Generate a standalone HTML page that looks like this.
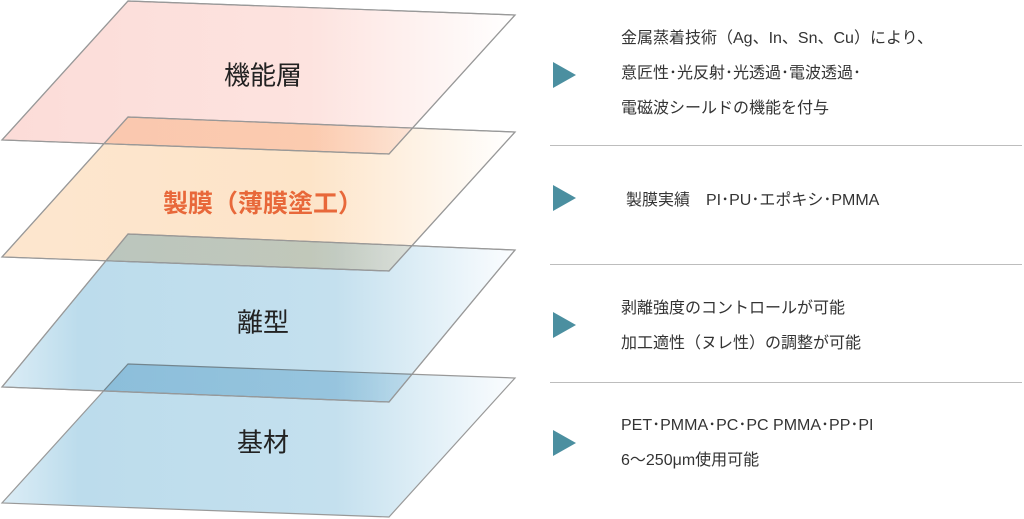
<!DOCTYPE html>
<html><head><meta charset="utf-8"><style>
body{margin:0;width:1024px;height:519px;background:#fff;overflow:hidden;position:relative;font-family:"Liberation Sans","Noto Sans CJK JP",sans-serif}
svg{position:absolute;left:0;top:0}
.t{position:absolute;font-size:16px;color:#333;white-space:nowrap;line-height:35px}
.tri{position:absolute;left:553px;width:0;height:0;border-top:13px solid transparent;border-bottom:13px solid transparent;border-left:23px solid #4b8fa0}
.sep{position:absolute;left:550px;width:472px;height:1px;background:#bdbdbd}
.lbl{position:absolute;font-size:26px;color:#222;transform:translate(-50%,-50%);white-space:nowrap}
</style></head><body>
<svg width="1024" height="519">
<defs>
<linearGradient id="p" x1="0" x2="1"><stop offset="0" stop-color="#fcdcd8"/><stop offset=".6" stop-color="#fde3df"/><stop offset="1" stop-color="#fff"/></linearGradient>
<linearGradient id="o" x1="0" x2="1"><stop offset="0" stop-color="#fde6cf"/><stop offset=".6" stop-color="#fde4c8"/><stop offset="1" stop-color="#fff"/></linearGradient>
<linearGradient id="b" x1="0" x2="1"><stop offset="0" stop-color="#dcedf6"/><stop offset=".15" stop-color="#bcdcec"/><stop offset=".65" stop-color="#c4e0ee"/><stop offset="1" stop-color="#fbfdff"/></linearGradient>
</defs>
<g stroke="#999" stroke-width="1.2" style="mix-blend-mode:multiply">
<polygon points="128,1 515,15 389,154 2,140" fill="url(#p)"/>
</g>
<g stroke="#999" stroke-width="1.2">
<polygon points="128,117 515,132 389,271 2,257" fill="url(#o)" style="mix-blend-mode:multiply"/>
<polygon points="128,234 515,250 389,402 2,387" fill="url(#b)" style="mix-blend-mode:multiply"/>
<polygon points="128,364 515,378 389,517 2,503" fill="url(#b)" style="mix-blend-mode:multiply"/>
</g>
<g fill="none" stroke="#999" stroke-width="1.2">
<polygon points="128,1 515,15 389,154 2,140"/>
<polygon points="128,117 515,132 389,271 2,257"/>
<polygon points="128,234 515,250 389,402 2,387"/>
</g>
</svg>
<div class="lbl" style="left:263px;top:74px">機能層</div>
<div class="lbl" style="left:263px;top:202px;color:#e8683a;font-weight:bold;font-size:25px">製膜（薄膜塗工）</div>
<div class="lbl" style="left:263px;top:321px">離型</div>
<div class="lbl" style="left:263px;top:441px">基材</div>
<div class="tri" style="top:62px"></div>
<div class="tri" style="top:185px"></div>
<div class="tri" style="top:312px"></div>
<div class="tri" style="top:430px"></div>
<div class="sep" style="top:145px"></div>
<div class="sep" style="top:264px"></div>
<div class="sep" style="top:382px"></div>
<div class="t" style="left:621px;top:21px">金属蒸着技術（Ag、In、Sn、Cu）により、<br>意匠性･光反射･光透過･電波透過･<br>電磁波シールドの機能を付与</div>
<div class="t" style="left:626px;top:183px">製膜実績　PI･PU･エポキシ･PMMA</div>
<div class="t" style="left:621px;top:291px">剥離強度のコントロールが可能<br>加工適性（ヌレ性）の調整が可能</div>
<div class="t" style="left:621px;top:408px">PET･PMMA･PC･PC PMMA･PP･PI<br>6～250μm使用可能</div>
</body></html>
